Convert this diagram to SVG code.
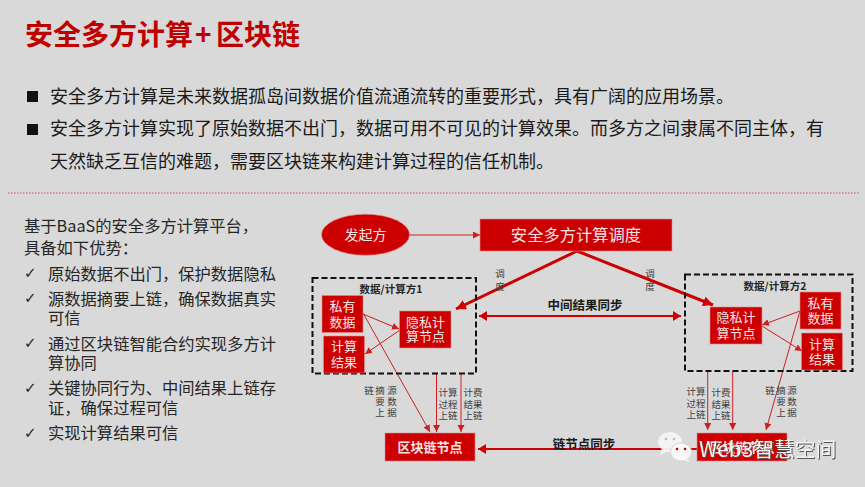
<svg xmlns="http://www.w3.org/2000/svg" width="865" height="487" viewBox="0 0 865 487">
<style>
text{font-family:"Noto Sans CJK SC","Noto Sans",sans-serif}
.title{font-size:28px;font-weight:700;fill:#c00000}
.body{font-size:18px;fill:#1a1a1a}
.left{font-size:16.3px;fill:#262626}
.chk{font-family:"DejaVu Sans",sans-serif;font-size:15px;fill:#262626}
.box{fill:#cc0000;stroke:#e08a8a;stroke-width:.6}
.wt{fill:#f6e4e4;text-anchor:middle}
.t13{font-size:13px}
.t14{font-size:14px}
.t16{font-size:16.3px}
.bold{font-weight:700}
.lab{font-size:9.5px;fill:#404040;text-anchor:middle}
.vert{font-size:9.5px;fill:#404040;writing-mode:vertical-rl;letter-spacing:1.5px}
.sec{font-size:10.5px;font-weight:700;fill:#262626;text-anchor:middle}
.sync{font-size:12.5px;font-weight:700;fill:#1a1a1a;text-anchor:middle}
.dash{fill:none;stroke:#111;stroke-width:2;stroke-dasharray:6 3}
.thin{fill:none;stroke:#cc2020;stroke-width:1;marker-end:url(#a)}
.thick{fill:none;stroke:#cc0000;stroke-width:3;marker-end:url(#b)}
.mid{fill:none;stroke:#cc0000;stroke-width:2.2;marker-end:url(#c);marker-start:url(#d)}
</style>
<defs>
<marker id="a" markerWidth="8" markerHeight="8" refX="7" refY="3.5" orient="auto" markerUnits="userSpaceOnUse"><path d="M0 0L7 3.5L0 7z" fill="#cc2020"/></marker>
<marker id="b" markerWidth="12" markerHeight="10" refX="10" refY="5" orient="auto" markerUnits="userSpaceOnUse"><path d="M0 0L10 5L0 10z" fill="#cc0000"/></marker>
<marker id="c" markerWidth="9" markerHeight="10" refX="8" refY="5" orient="auto" markerUnits="userSpaceOnUse"><path d="M0 0L8 5L0 10z" fill="#cc0000"/></marker>
<marker id="d" markerWidth="9" markerHeight="10" refX="0" refY="5" orient="auto" markerUnits="userSpaceOnUse"><path d="M8 0L0 5L8 10z" fill="#cc0000"/></marker>
</defs>
<rect width="865" height="487" fill="#d9d9d9"/>
<text class="title" x="25" y="45">安全多方计算<tspan x="195">+</tspan><tspan x="216">区块链</tspan></text>
<rect x="27" y="91" width="11" height="11" fill="#111"/>
<rect x="27" y="124" width="11" height="11" fill="#111"/>
<text class="body" x="50" y="103">安全多方计算是未来数据孤岛间数据价值流通流转的重要形式，具有广阔的应用场景。</text>
<text class="body" x="50" y="135">安全多方计算实现了原始数据不出门，数据可用不可见的计算效果。而多方之间隶属不同主体，有</text>
<text class="body" x="50" y="168">天然缺乏互信的难题，需要区块链来构建计算过程的信任机制。</text>
<line x1="8" y1="193" x2="860" y2="193" stroke="#d9485a" stroke-width="1" stroke-dasharray="1.5 1.5"/>
<g id="advantages">
<text class="left" x="24" y="232">基于BaaS的安全多方计算平台，</text>
<text class="left" x="24" y="254">具备如下优势：</text>
<text class="chk" x="24" y="278">✓</text><text class="left" x="48" y="280">原始数据不出门，保护数据隐私</text>
<text class="chk" x="24" y="303">✓</text><text class="left" x="48" y="305">源数据摘要上链，确保数据真实</text>
<text class="left" x="48" y="324">可信</text>
<text class="chk" x="24" y="348">✓</text><text class="left" x="48" y="350">通过区块链智能合约实现多方计</text>
<text class="left" x="48" y="369">算协同</text>
<text class="chk" x="24" y="393">✓</text><text class="left" x="48" y="394">关键协同行为、中间结果上链存</text>
<text class="left" x="48" y="414">证，确保过程可信</text>
<text class="chk" x="24" y="438">✓</text><text class="left" x="48" y="439">实现计算结果可信</text>
</g>
<g id="connectors">
<path class="thin" d="M409 235H480"/>
<path class="thick" d="M577 251L456 309"/>
<path class="thick" d="M577 251L713 305"/>
<path class="mid" d="M479 316H681"/>
<path class="mid" d="M478 449H697" style="marker-end:none"/>
<path class="thin" d="M363 314L399 329"/>
<path class="thin" d="M400 330L365 354"/>
<path class="thin" d="M363 313L430 432"/>
<path class="thin" d="M436.500 373V432"/>
<path class="thin" d="M461 373V432"/>
<path class="thin" d="M800 311L762 325"/>
<path class="thin" d="M762 326L802 351"/>
<path class="thin" d="M800 311L766 430"/>
<path class="thin" d="M707.700 371V430"/>
<path class="thin" d="M732.700 371V430"/>
</g>
<g id="initiator"><ellipse class="box" cx="365.500" cy="234.700" rx="44" ry="20.500"/><text class="wt t14" x="365.500" y="240">发起方</text></g>
<g id="scheduler"><rect class="box" x="480" y="219" width="192" height="32"/><text class="wt t16" x="576" y="241">安全多方计算调度</text></g>
<g id="party1">
<rect class="dash" x="312.500" y="278" width="163.500" height="95.500"/>
<text class="sec" x="391" y="293">数据/计算方1</text>
</g>
<g id="p1-data"><rect class="box" x="322" y="295.500" width="41" height="37"/><text class="wt t13" x="342.500" y="311">私有<tspan x="342.500" y="327">数据</tspan></text></g>
<g id="p1-result"><rect class="box" x="323.500" y="336" width="41" height="37"/><text class="wt t13" x="344" y="351">计算<tspan x="344" y="367">结果</tspan></text></g>
<g id="p1-node"><rect class="box" x="399.500" y="311" width="51.500" height="37"/><text class="wt t13" x="425.500" y="326.500">隐私计<tspan x="425.500" y="341">算节点</tspan></text></g>
<g id="chain1"><rect class="box" x="385" y="433" width="90" height="28"/><text class="wt bold t13" x="430" y="452">区块链节点</text></g>
<g id="party2">
<rect class="dash" x="685" y="274.500" width="167.500" height="96.500"/>
<text class="sec" x="775" y="290">数据/计算方2</text>
</g>
<g id="p2-data"><rect class="box" x="800" y="292" width="41" height="37"/><text class="wt t13" x="820.500" y="308">私有<tspan x="820.500" y="323">数据</tspan></text></g>
<g id="p2-result"><rect class="box" x="801.500" y="333" width="41" height="37"/><text class="wt t13" x="822" y="348.500">计算<tspan x="822" y="364">结果</tspan></text></g>
<g id="p2-node"><rect class="box" x="710" y="307" width="52" height="37"/><text class="wt t13" x="736" y="322">隐私计<tspan x="736" y="338">算节点</tspan></text></g>
<g id="chain2"><rect class="box" x="697" y="433" width="90" height="28"/><text class="wt bold t13" x="742" y="452">区块链节点</text></g>
<g id="labels">
<text class="vert" x="500" y="269" style="letter-spacing:3.5px">调度</text>
<text class="vert" x="650" y="269" style="letter-spacing:3.5px">调度</text>
<text class="sync" x="585" y="310">中间结果同步</text>
<text class="sync" x="584" y="449">链节点同步</text>
<text class="vert" x="369" y="386">链</text>
<text class="vert" x="380" y="386">摘要上</text>
<text class="vert" x="392" y="386">源数据</text>
<text class="lab" x="448" y="396">计算<tspan x="448" y="407.500">过程</tspan><tspan x="448" y="419">上链</tspan></text>
<text class="lab" x="473" y="396">计费<tspan x="473" y="407.500">结果</tspan><tspan x="473" y="419">上链</tspan></text>
<text class="lab" x="696" y="395">计算<tspan x="696" y="406.500">过程</tspan><tspan x="696" y="418">上链</tspan></text>
<text class="lab" x="721" y="396">计费<tspan x="721" y="407.500">结果</tspan><tspan x="721" y="419">上链</tspan></text>
<text class="vert" x="770" y="386">链</text>
<text class="vert" x="781" y="386">摘要上</text>
<text class="vert" x="792" y="386">源数据</text>
</g>
<g id="watermark">
<ellipse cx="670" cy="442" rx="12" ry="10" fill="#f4f4f4" opacity=".95"/>
<path d="M662 449L660 455L668 451z" fill="#f4f4f4"/>
<ellipse cx="681" cy="452" rx="10.500" ry="9" fill="#f8f8f8" stroke="#d9d9d9"/>
<path d="M687 459L690 462L683 460z" fill="#f8f8f8"/>
<circle cx="666" cy="439" r="1.300" fill="#bbb"/><circle cx="674" cy="439" r="1.300" fill="#bbb"/>
<circle cx="677" cy="449" r="1.300" fill="#cc0000"/><circle cx="685" cy="449" r="1.300" fill="#cc0000"/>
<text x="699" y="457" style="font-size:20.800px;fill:#f4f4f4;filter:drop-shadow(1px 1px 0.600px #555)">Web3智慧空间</text>
</g>
</svg>
